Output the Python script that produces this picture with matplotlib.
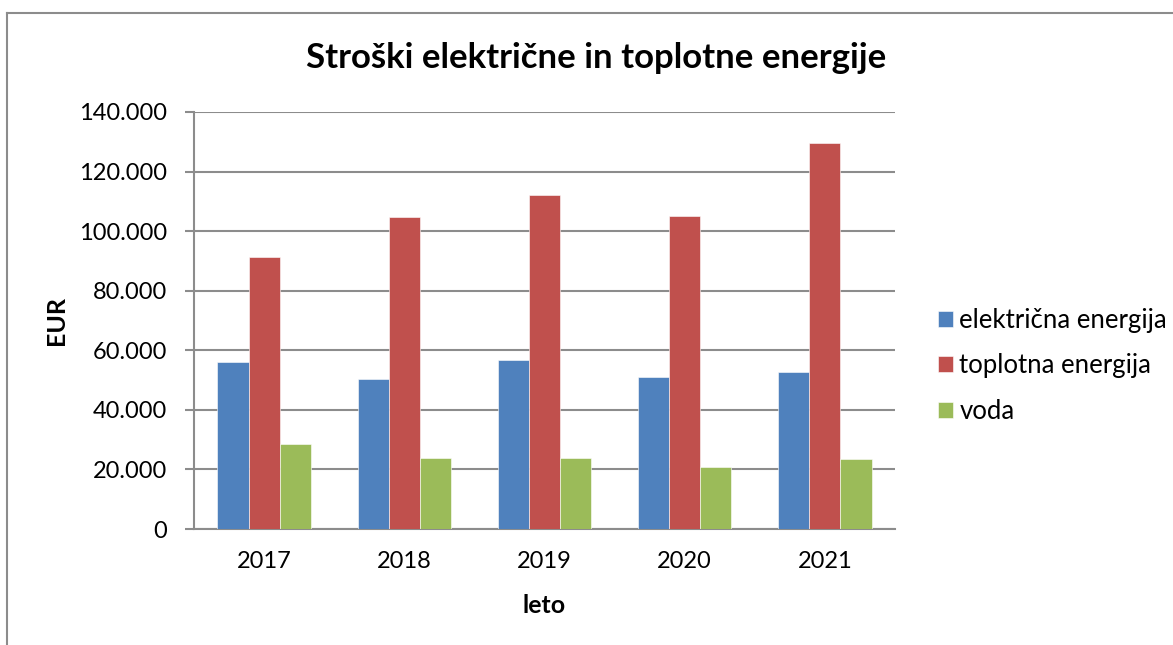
import matplotlib
matplotlib.use("Agg")
import matplotlib.pyplot as plt
from matplotlib.lines import Line2D
from matplotlib.ticker import FuncFormatter
import numpy as np

years = ["2017", "2018", "2019", "2020", "2021"]
elektricna = [56200, 50200, 56600, 51000, 52800]
toplotna = [91400, 104600, 112200, 105000, 129700]
voda = [28700, 23800, 24000, 20700, 23400]
series_names = ["električna energija", "toplotna energija", "voda"]
colors = ["#4F81BD", "#C0504D", "#9BBB59"]

plt.rcParams['font.family'] = ['Lato', 'DejaVu Sans']

W, H = 1173, 645
fig = plt.figure(figsize=(W / 100, H / 100), dpi=100)
ax = fig.add_axes([194 / W, 1 - 529 / H, (895 - 194) / W, (529 - 112) / H])

x = np.arange(len(years))
bw = 1 / 4.5
for i, (vals, name, c) in enumerate(zip([elektricna, toplotna, voda], series_names, colors)):
    ax.bar(x + (i - 1) * bw, vals, width=bw, color=c, label=name,
           edgecolor='white', linewidth=0.4, zorder=3)

ax.set_xlim(-0.5, len(years) - 0.5)
ax.set_ylim(0, 140000)
ax.set_yticks(np.arange(0, 140001, 20000))
ax.yaxis.set_major_formatter(FuncFormatter(lambda v, p: f"{int(v):,}".replace(",", ".")))
ax.set_xticks(x)
ax.set_xticklabels(years)

ax.grid(axis='y', color='#8C8C8C', linewidth=1.5, zorder=0)
for s in ['top', 'right']:
    ax.spines[s].set_visible(False)
for s in ['left', 'bottom']:
    ax.spines[s].set_color('#8C8C8C')
    ax.spines[s].set_linewidth(1.5)
ax.tick_params(axis='y', length=6.5, width=1.5, color='#8C8C8C', labelsize=17, pad=13)
ax.tick_params(axis='x', length=0, labelsize=17, pad=16)

ax.set_ylabel("EUR", fontsize=18, fontweight='bold')
ax.set_xlabel("leto", fontsize=18, fontweight='bold')
ax.yaxis.set_label_coords((68 - 194) / 701, 0.5)
ax.xaxis.set_label_coords(0.5, (529 - 594) / 417)

fig.text(596 / W, 1 - 58 / H, "Stroški električne in toplotne energije",
         ha='center', va='center', fontsize=25, fontweight='bold')

leg = fig.legend(loc='center left', bbox_to_anchor=(938 / W, 1 - 366 / H),
                 frameon=False, fontsize=18.5, handlelength=0.58, handleheight=0.58,
                 handletextpad=0.25, labelspacing=0.8, borderpad=0, borderaxespad=0)

fig.add_artist(Line2D([7 / W, 1], [1 - 13 / H, 1 - 13 / H], color='#8C8C8C', linewidth=1.5,
                      transform=fig.transFigure))
fig.add_artist(Line2D([7 / W, 7 / W], [0, 1 - 13 / H], color='#8C8C8C', linewidth=1.5,
                      transform=fig.transFigure))

fig.savefig("out.png", dpi=100)
